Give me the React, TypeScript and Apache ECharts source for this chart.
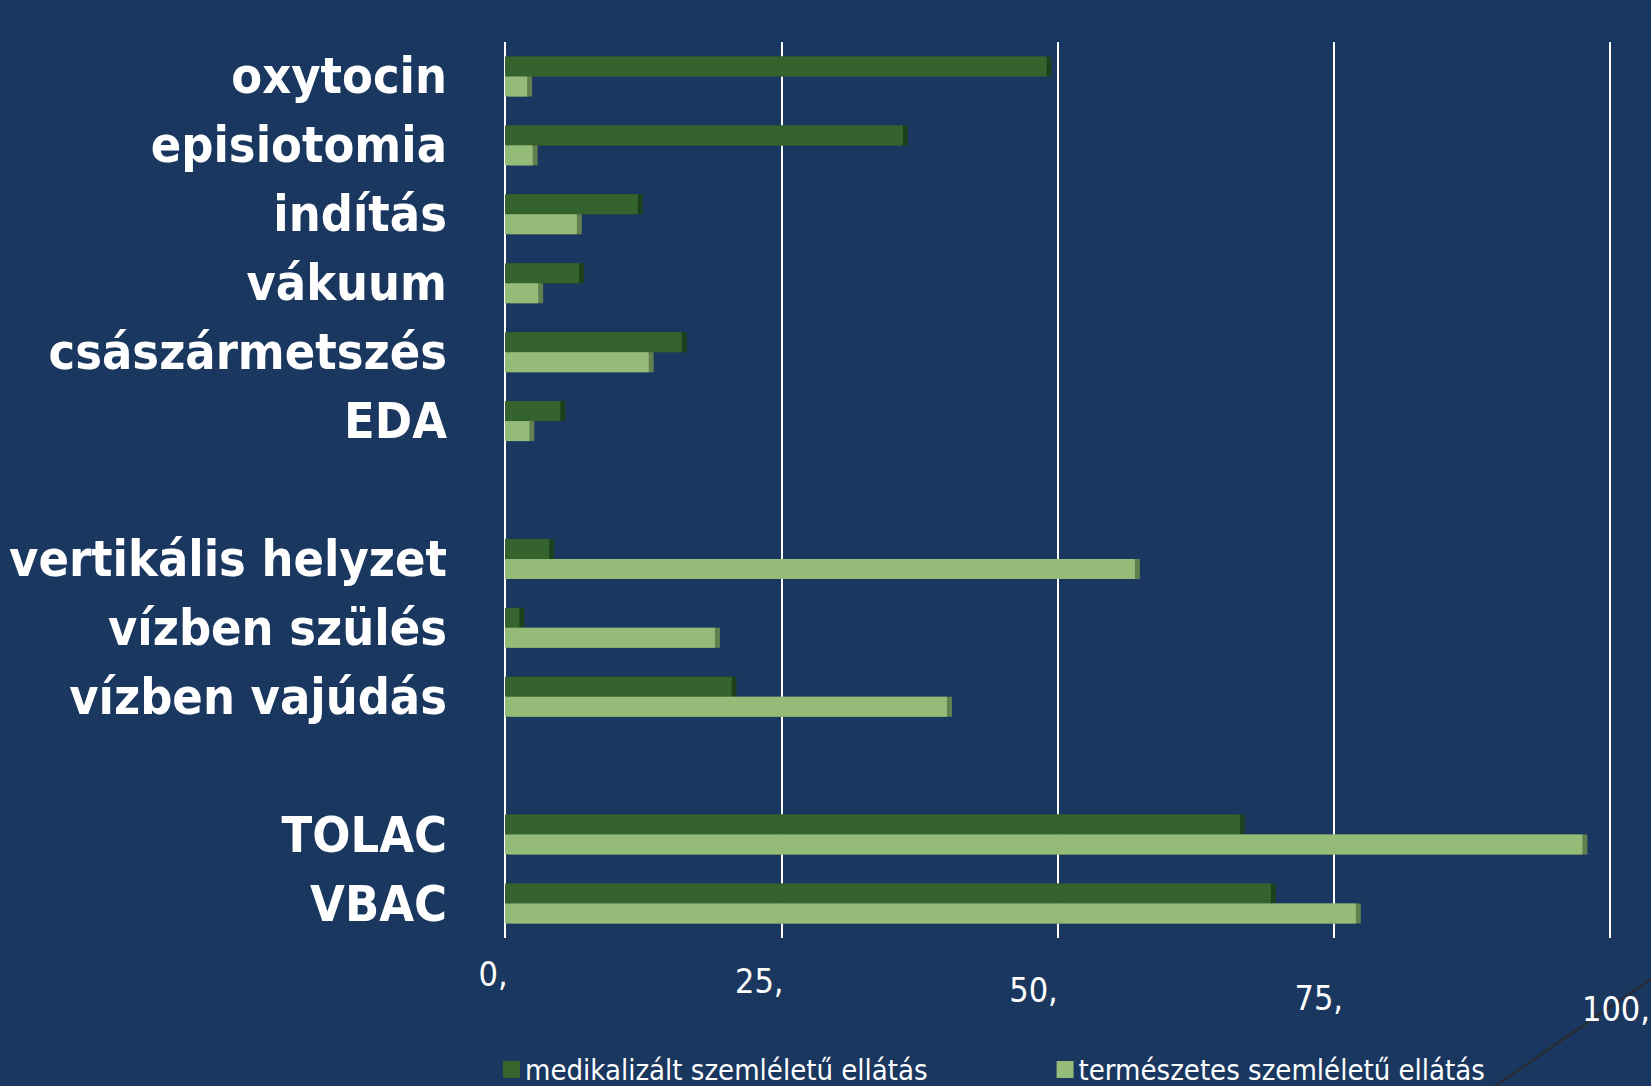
import React, { useEffect, useRef } from "react";
import * as echarts from "echarts";

const categories = [
  "oxytocin",
  "episiotomia",
  "indítás",
  "vákuum",
  "császármetszés",
  "EDA",
  " ",
  "vertikális helyzet",
  "vízben szülés",
  "vízben vajúdás",
  "  ",
  "TOLAC",
  "VBAC",
];

const seriesNames = ["medikalizált szemléletű ellátás", "természetes szemléletű ellátás"];
const medicalValues = [49, 36, 12, 6.7, 16, 5, null, 4, 1.3, 20.5, null, 66.5, 69.3];
const naturalValues = [2, 2.5, 6.5, 3, 13, 2.2, null, 57, 19, 40, null, 97.5, 77];
const tickLabels = ["0,", "25,", "50,", "75,", "100,"];

const FONT = "'Liberation Sans Narrow', 'DejaVu Sans Condensed', 'Liberation Sans', sans-serif";
const BG = "#1a375f";
const DARK = "#36642d";
const DARK_SIDE = "#1f3f1a";
const LIGHT = "#94bb78";
const LIGHT_SIDE = "#62804f";

export default function App() {
  const ref = useRef<HTMLDivElement>(null);
  useEffect(() => {
    if (!ref.current) return;
    const chart = echarts.init(ref.current, null, { renderer: "svg" });
    // [top, right, left] paddings to mimic the sloping 3D floor labels
    const labelPads = [
      [0, 24, 0],
      [7, 44, 0],
      [16, 48, 0],
      [24, 30, 0],
      [35, 0, 12],
    ];
    const rich: any = {};
    labelPads.forEach((p, i) => {
      rich["l" + i] = {
        fontFamily: FONT,
        fontSize: 34,
        color: "#ffffff",
        padding: [p[0], p[1], 0, p[2]],
      };
    });
    chart.setOption({
      animation: false,
      backgroundColor: BG,
      grid: {
        left: 505,
        right: 41,
        top: 42,
        bottom: 148,
        containLabel: false,
        outerBoundsMode: "none",
      },
      legend: {
        left: 503,
        top: 1055,
        padding: 0,
        itemWidth: 17,
        itemHeight: 17,
        itemGap: 129,
        icon: "rect",
        textStyle: { fontFamily: FONT, fontSize: 29, color: "#ffffff" },
        data: seriesNames,
      },
      xAxis: {
        type: "value",
        min: 0,
        max: 100,
        interval: 25,
        axisLine: { show: false },
        axisTick: { show: false },
        splitLine: { show: true, lineStyle: { color: "#ffffff", width: 2 } },
        axisLabel: {
          margin: 19,
          formatter: (v: number) => {
            const i = Math.round(v / 25);
            return `{l${i}|${tickLabels[i]}}`;
          },
          rich,
        },
      },
      yAxis: {
        type: "category",
        inverse: true,
        data: categories,
        axisLine: { show: false },
        axisTick: { show: false },
        splitLine: { show: false },
        axisLabel: {
          interval: 0,
          margin: 58,
          fontFamily: FONT,
          fontWeight: "bold",
          fontSize: 50,
          color: "#ffffff",
        },
      },
      series: [
        {
          name: seriesNames[0],
          type: "bar",
          data: medicalValues,
          barWidth: 20,
          barGap: "0%",
          itemStyle: {
            color: DARK,
            shadowColor: DARK_SIDE,
            shadowBlur: 0,
            shadowOffsetX: 5,
            shadowOffsetY: 0,
          },
        },
        {
          name: seriesNames[1],
          type: "bar",
          data: naturalValues,
          barWidth: 20,
          barGap: "0%",
          itemStyle: {
            color: LIGHT,
            shadowColor: LIGHT_SIDE,
            shadowBlur: 0,
            shadowOffsetX: 5,
            shadowOffsetY: 0,
          },
        },
      ],
      graphic: [
        {
          type: "line",
          shape: { x1: 1495, y1: 1086, x2: 1651, y2: 979 },
          style: { stroke: "#2b2b2b", lineWidth: 2 },
          silent: true,
        },
      ],
    });
    return () => chart.dispose();
  }, []);
  return (
    <div
      ref={ref}
      style={{ position: "fixed", left: 0, top: 0, width: 1651, height: 1086 }}
    />
  );
}
